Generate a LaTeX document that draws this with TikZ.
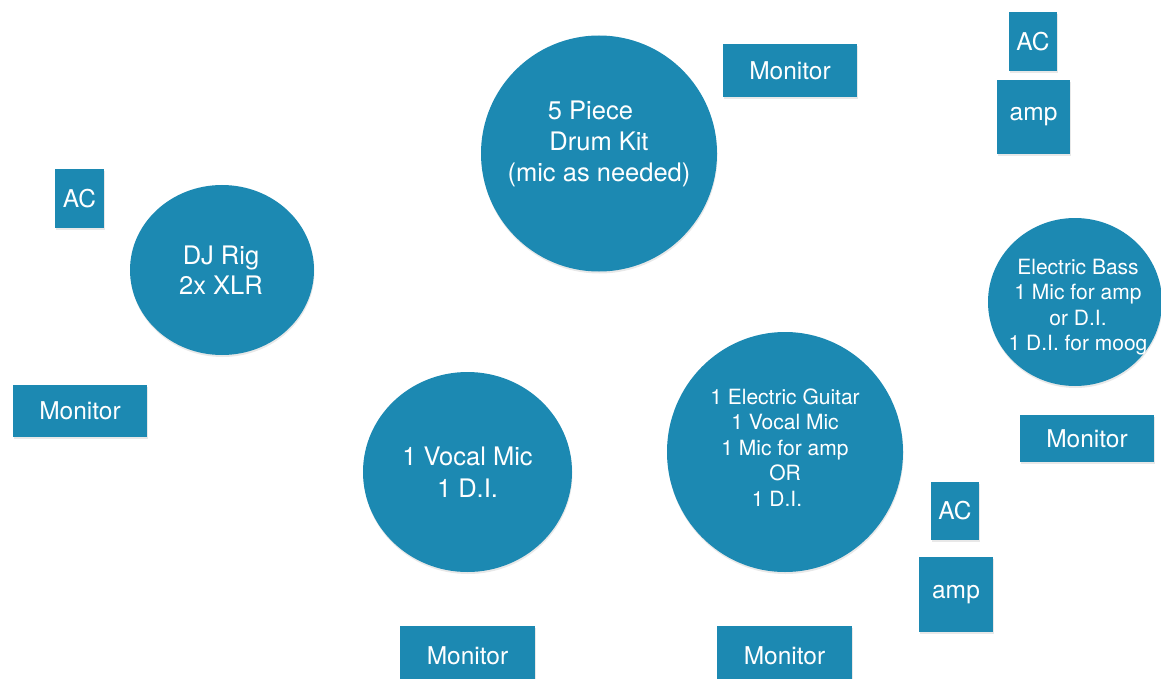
\documentclass[tikz,border=0pt]{standalone}
\usepackage{fontspec}
\setmainfont{TeX Gyre Heros}
\usetikzlibrary{shapes.geometric,shadows}
\definecolor{stage}{RGB}{28,137,178}
\begin{document}
\begin{tikzpicture}[x=1pt,y=-1pt,
  blk/.style={fill=stage, draw=none, inner sep=0pt, text=white,
    drop shadow={opacity=0.18, shadow xshift=0.5pt, shadow yshift=-2pt}},
  box/.style={blk, rectangle, font=\fontsize{24.5}{29}\selectfont},
  disc/.style={blk, ellipse},
  lbl/.style={text=white, align=center, inner sep=0pt},
  big/.style={font=\fontsize{25.5}{31}\selectfont},
  small/.style={font=\fontsize{21}{25.6}\selectfont}]
\useasboundingbox (0,0) rectangle (1161,679);
\clip (0,0) rectangle (1161,679);

% circles
\node[disc, minimum width=184pt, minimum height=170pt] (dj) at (222,270) {};
\node[disc, minimum width=236pt, minimum height=236pt] (drum) at (599,153.5) {};
\node[disc, minimum width=209pt, minimum height=200pt] (vocal) at (467.5,472) {};
\node[disc, minimum width=236pt, minimum height=240pt] (guitar) at (785,452) {};
\node[disc, minimum width=174pt, minimum height=168pt] (bass) at (1075,302) {};

% circle texts
\node[lbl, big, font=\fontsize{25.5}{30}\selectfont] (djt) at (221,270) {DJ Rig\\2x XLR};
\node[lbl, big] (drumt) at (599,144) {5 Piece\hspace*{17pt}\\Drum Kit\\(mic as needed)};
\node[lbl, big, font=\fontsize{25.5}{32}\selectfont] (vocalt) at (467.5,472) {1 Vocal Mic\\1 D.I.};
\node[lbl, small] (guitart) at (785,447.5) {1 Electric Guitar\\1 Vocal Mic\\1 Mic for amp\\OR\hspace*{16pt}\\1 D.I.\hspace*{16pt}};
\node[lbl, small, font=\fontsize{21}{25.3}\selectfont] (basst) at (1078,307) {Electric Bass\\1 Mic for amp\\or D.I.\\1 D.I. for moog};

% boxes
\node[box, minimum width=49pt, minimum height=59pt] (acL) at (79.5,198.5) {AC};
\node[box, minimum width=134pt, minimum height=52pt] (monL) at (80,411) {Monitor};
\node[box, minimum width=134pt, minimum height=53pt] (monT) at (790,70.5) {Monitor};
\node[box, minimum width=48pt, minimum height=59pt] (acTR) at (1033,41.5) {AC};
\node[box, minimum width=73pt, minimum height=74pt] (ampTR) at (1033.5,117) {amp};
\node[box, minimum width=134pt, minimum height=47pt] (monR) at (1087,438.5) {Monitor};
\node[box, minimum width=48pt, minimum height=58pt] (acBR) at (955,511) {AC};
\node[box, minimum width=74pt, minimum height=75pt] (ampBR) at (956,594.5) {amp};
\node[box, minimum width=135pt, minimum height=60pt] (monB1) at (467.5,656) {Monitor};
\node[box, minimum width=135pt, minimum height=60pt] (monB2) at (784.5,656) {Monitor};
\end{tikzpicture}
\end{document}
